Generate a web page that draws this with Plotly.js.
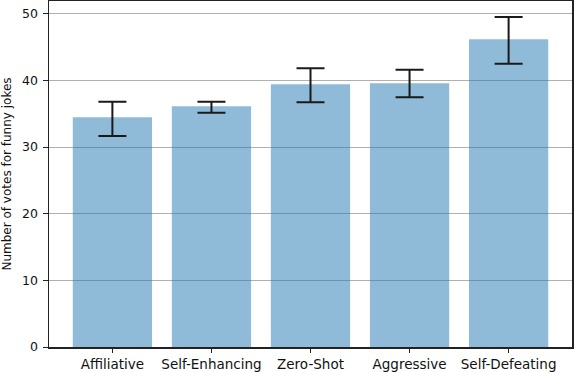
<!DOCTYPE html>
<html>
<head>
<meta charset="utf-8">
<script src="https://cdn.plot.ly/plotly-3.0.1.min.js"></script>
<style>
  html, body { margin: 0; padding: 0; background: #fff; }
  #chart { width: 574px; height: 372px; }
</style>
</head>
<body>
<div id="chart"></div>
<script>
// joke categories and mean votes
var categories = ['Affiliative', 'Self-Enhancing', 'Zero-Shot', 'Aggressive', 'Self-Defeating'];
var votes = [34.45, 36.1, 39.4, 39.55, 46.15];
// error bar extents
var errUp = [2.35, 0.7, 2.4, 2.05, 3.35];
var errDown = [2.8, 0.95, 2.7, 2.1, 3.65];
var yTicks = [0, 10, 20, 30, 40, 50];

var data = [{
    x: categories,
    y: votes,
    type: 'bar',
    width: 0.8,
    marker: { color: 'rgba(31,119,180,0.5)', line: { width: 0 } },
    error_y: {
        type: 'data',
        symmetric: false,
        array: errUp,
        arrayminus: errDown,
        color: '#1a1a1a',
        thickness: 2,
        width: 14
    },
    hoverinfo: 'none'
}];

var layout = {
    width: 574,
    height: 372,
    margin: { l: 49, r: 2, t: 1, b: 25 },
    paper_bgcolor: '#fff',
    plot_bgcolor: '#fff',
    showlegend: false,
    font: { family: 'DejaVu Sans, sans-serif', size: 12, color: '#111' },
    xaxis: {
        range: [-0.64, 4.64],
        showgrid: false,
        showline: true,
        mirror: true,
        linecolor: '#222',
        linewidth: 1.5,
        ticks: 'outside',
        ticklen: 4,
        tickcolor: '#222',
        tickfont: { size: 13.5 },
        zeroline: false
    },
    yaxis: {
        range: [0, 51.9],
        tickvals: yTicks,
        showgrid: true,
        gridcolor: '#b0b0b0',
        gridwidth: 1,
        showline: true,
        mirror: true,
        linecolor: '#222',
        linewidth: 1.5,
        ticks: 'outside',
        ticklen: 5,
        tickcolor: '#222',
        tickfont: { size: 12.5 },
        ticklabelstandoff: 2,
        zeroline: false,
        title: { text: 'Number of votes for funny jokes', font: { size: 12 }, standoff: 10 }
    }
};

Plotly.newPlot('chart', data, layout, { displayModeBar: false, staticPlot: true });
</script>
</body>
</html>
